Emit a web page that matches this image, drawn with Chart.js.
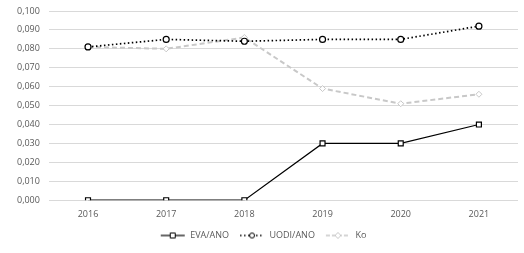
<!DOCTYPE html>
<html>
<head>
<meta charset="utf-8">
<script src="https://cdn.jsdelivr.net/npm/chart.js@4/dist/chart.umd.min.js"></script>
<style>
  html, body { margin: 0; padding: 0; background: #fff; }
  #wrap { width: 524px; height: 253px; }
</style>
</head>
<body>
<div id="wrap"><canvas id="line-chart"></canvas></div>
<script>
const years = ["2016", "2017", "2018", "2019", "2020", "2021"];
const evaAno = [0, 0, 0, 0.030, 0.030, 0.040];
const uodiAno = [0.081, 0.085, 0.084, 0.085, 0.085, 0.092];
const ko = [0.081, 0.080, 0.086, 0.059, 0.051, 0.056];

// small legend pictures: a stroke with the marker in the middle
function legendIcon(color, dash, width, marker) {
    const c = document.createElement('canvas');
    c.width = 26; c.height = 10;
    const ctx = c.getContext('2d');
    ctx.strokeStyle = color;
    ctx.lineWidth = width;
    ctx.setLineDash(dash);
    ctx.beginPath(); ctx.moveTo(1, 5); ctx.lineTo(25, 5); ctx.stroke();
    ctx.setLineDash([]);
    ctx.lineWidth = 1;
    ctx.fillStyle = '#fff';
    ctx.beginPath();
    if (marker === 'rect') ctx.rect(10.5, 2.5, 5, 5);
    else if (marker === 'circle') ctx.arc(13, 5, 2.5, 0, Math.PI * 2);
    else { ctx.moveTo(13, 2); ctx.lineTo(16, 5); ctx.lineTo(13, 8); ctx.lineTo(10, 5); ctx.closePath(); }
    ctx.fill(); ctx.stroke();
    return c;
}

const icons = [
    legendIcon('#000', [], 1.2, 'rect'),
    legendIcon('#000', [1.5, 2.5], 1.5, 'circle'),
    legendIcon('#c8c8c8', [4, 2], 1.5, 'diamond')
];

new Chart(document.getElementById("line-chart"), {
    type: 'line',
    data: {
        labels: years,
        datasets: [{
            label: "EVA/ANO",
            data: evaAno,
            borderColor: "#000",
            borderWidth: 1.2,
            pointStyle: 'rect',
            pointRadius: 3.5,
            pointBackgroundColor: '#fff',
            pointBorderColor: '#000',
            pointBorderWidth: 1.2,
            fill: false
        }, {
            label: "UODI/ANO",
            data: uodiAno,
            borderColor: "#000",
            borderWidth: 1.7,
            borderDash: [1.5, 2.5],
            pointStyle: 'circle',
            pointRadius: 3,
            pointBackgroundColor: '#fff',
            pointBorderColor: '#000',
            pointBorderWidth: 1.2,
            fill: false
        }, {
            label: "Ko",
            data: ko,
            borderColor: "#c8c8c8",
            borderWidth: 2,
            borderDash: [5, 3],
            pointStyle: 'rectRot',
            pointRadius: 3,
            pointBackgroundColor: '#fff',
            pointBorderColor: '#c8c8c8',
            pointBorderWidth: 1,
            fill: false
        }]
    },
    options: {
        responsive: true,
        maintainAspectRatio: false,
        animation: false,
        layout: { padding: { left: 8, right: 6, top: 11, bottom: 3 } },
        scales: {
            x: {
                offset: true,
                grid: { display: false },
                border: { display: false },
                ticks: { color: '#595959', font: { family: 'Open Sans', size: 9 }, padding: 1 }
            },
            y: {
                min: 0,
                max: 0.1,
                grid: { color: '#d9d9d9', drawTicks: false },
                border: { display: false },
                afterFit: s => { s.paddingTop = 0; },
                ticks: {
                    stepSize: 0.01,
                    padding: 9,
                    color: '#595959',
                    font: { family: 'Open Sans', size: 9 },
                    callback: v => v.toFixed(3).replace('.', ',')
                }
            }
        },
        plugins: {
            legend: {
                position: 'bottom',
                labels: {
                    usePointStyle: true,
                    pointStyleWidth: 26,
                    color: '#595959',
                    font: { family: 'Open Sans', size: 9 },
                    padding: 10,
                    generateLabels: chart => chart.data.datasets.map((ds, i) => ({
                        text: ds.label,
                        pointStyle: icons[i],
                        fontColor: '#595959',
                        strokeStyle: 'transparent',
                        fillStyle: 'transparent',
                        lineWidth: 0,
                        datasetIndex: i
                    }))
                }
            },
            tooltip: { enabled: false }
        }
    }
});
</script>
</body>
</html>
